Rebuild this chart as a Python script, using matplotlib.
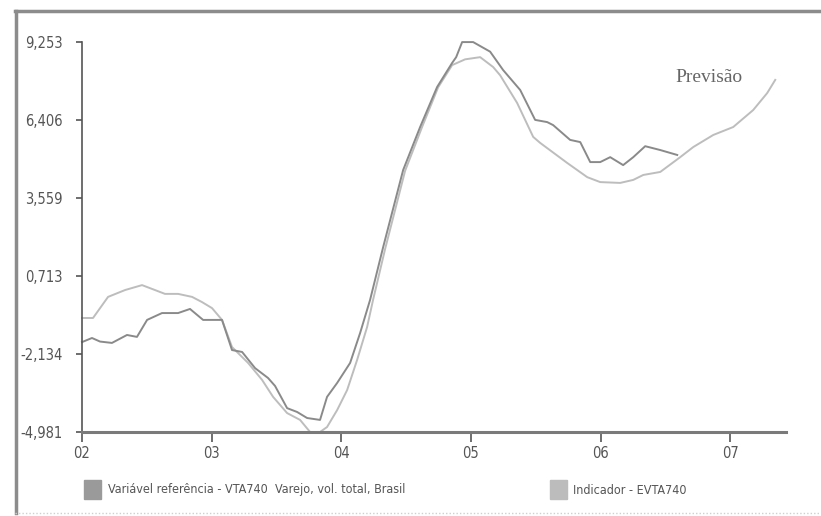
import numpy as np
import matplotlib
matplotlib.use("Agg")
import matplotlib.pyplot as plt
from matplotlib import font_manager
from matplotlib.patches import Rectangle
from matplotlib.lines import Line2D

# reference series: VTA740 (years, value)
ref_t = [0.000, 0.077, 0.139, 0.231, 0.347, 0.424, 0.502, 0.617, 0.741, 0.833,
         0.934, 1.080, 1.157, 1.235, 1.335, 1.435, 1.489, 1.582, 1.659, 1.736,
         1.836, 1.890, 1.968, 2.068, 2.145, 2.222, 2.323, 2.477, 2.608, 2.739,
         2.855, 2.886, 2.932, 3.017, 3.148, 3.248, 3.380, 3.495, 3.588, 3.634,
         3.765, 3.843, 3.920, 3.997, 4.074, 4.174, 4.252, 4.344, 4.460, 4.591]
ref_v = [-1.70, -1.55, -1.68, -1.73, -1.44, -1.51, -0.89, -0.64, -0.64, -0.49,
         -0.89, -0.89, -1.99, -2.06, -2.65, -3.01, -3.30, -4.11, -4.25, -4.47,
         -4.54, -3.70, -3.19, -2.46, -1.37, -0.16, 1.77, 4.58, 6.15, 7.61,
         8.49, 8.70, 9.25, 9.25, 8.90, 8.23, 7.50, 6.41, 6.33, 6.22,
         5.68, 5.60, 4.87, 4.87, 5.05, 4.76, 5.05, 5.45, 5.31, 5.13]

# indicator series: EVTA740 (incl. forecast)
ind_t = [0.000, 0.085, 0.201, 0.332, 0.463, 0.563, 0.640, 0.741, 0.849, 0.926,
         1.003, 1.080, 1.157, 1.281, 1.389, 1.474, 1.582, 1.682, 1.759, 1.836,
         1.890, 1.968, 2.045, 2.122, 2.199, 2.245, 2.338, 2.492, 2.623, 2.747,
         2.855, 2.955, 3.071, 3.171, 3.225, 3.356, 3.480, 3.534, 3.742, 3.897,
         3.997, 4.151, 4.252, 4.329, 4.460, 4.614, 4.715, 4.869, 5.023, 5.177,
         5.285, 5.347]
ind_v = [-0.82, -0.82, -0.05, 0.20, 0.38, 0.20, 0.06, 0.06, -0.05, -0.24,
         -0.46, -0.89, -1.88, -2.46, -3.08, -3.70, -4.29, -4.54, -4.98, -4.98,
         -4.80, -4.18, -3.45, -2.35, -1.15, -0.16, 1.70, 4.55, 6.15, 7.60,
         8.41, 8.62, 8.70, 8.34, 8.04, 7.03, 5.79, 5.57, 4.84, 4.32,
         4.14, 4.11, 4.22, 4.40, 4.51, 5.05, 5.42, 5.86, 6.15, 6.77,
         7.39, 7.87]

start_year = 2002
yticks = [-4.981, -2.134, 0.713, 3.559, 6.406, 9.253]
ytick_labels = ["-4,981", "-2,134", "0,713", "3,559", "6,406", "9,253"]
xticks = [2002, 2003, 2004, 2005, 2006, 2007]
xtick_labels = ["02", "03", "04", "05", "06", "07"]
ref_label = "Variável referência - VTA740  Varejo, vol. total, Brasil"
ind_label = "Indicador - EVTA740"

names = {f.name for f in font_manager.fontManager.ttflist}
if "Liberation Sans Narrow" in names:
    plt.rcParams["font.family"] = ["Liberation Sans Narrow", "DejaVu Sans"]
else:
    plt.rcParams["font.family"] = ["DejaVu Sans"]
    plt.rcParams["font.stretch"] = "condensed"

W, H = 821, 516
fig = plt.figure(figsize=(W / 100, H / 100), dpi=100)
ax = fig.add_axes([82 / W, 1 - 432 / H, (786 - 82) / W, 390 / H])

ax.plot(np.array(ind_t) + start_year, ind_v, color="#bdbdbd", lw=1.4, clip_on=False)
ax.plot(np.array(ref_t) + start_year, ref_v, color="#8a8a8a", lw=1.4, clip_on=False)

ax.set_xlim(2002, 2007.43)
ax.set_ylim(-4.981, 9.253)
ax.set_xticks(xticks)
ax.set_xticklabels(xtick_labels)
ax.set_yticks(yticks)
ax.set_yticklabels(ytick_labels)
ax.tick_params(axis="y", length=4, width=1.2, color="#555555", labelsize=10.5,
               labelcolor="#555555", pad=10)
ax.tick_params(axis="x", length=7, width=1.2, color="#555555", labelsize=10.5,
               labelcolor="#555555", pad=3)
for s in ["top", "right"]:
    ax.spines[s].set_visible(False)
ax.spines["left"].set_color("#555555")
ax.spines["left"].set_linewidth(1.2)
ax.spines["bottom"].set_color("#7a7a7a")
ax.spines["bottom"].set_linewidth(2.2)

fig.text(675 / W, 1 - 78 / H, "Previsão", family="Liberation Serif", fontsize=14,
         stretch="normal", color="#666666", va="center", ha="left")

# legend
fig.patches.append(Rectangle((84 / W, 1 - 499 / H), 17 / W, 19 / H,
                             transform=fig.transFigure, color="#9a9a9a"))
fig.text(108 / W, 1 - 490 / H, ref_label, fontsize=9, color="#555555", va="center")
fig.patches.append(Rectangle((550 / W, 1 - 499 / H), 17 / W, 19 / H,
                             transform=fig.transFigure, color="#bcbcbc"))
fig.text(573 / W, 1 - 490 / H, ind_label, fontsize=9, color="#555555", va="center")

# outer frame
fig.lines.append(Line2D([15 / W, 1], [1 - 11 / H, 1 - 11 / H], transform=fig.transFigure,
                        color="#8c8c8c", lw=2.5))
fig.lines.append(Line2D([16 / W, 16 / W], [1 - 11 / H, 1 - 513 / H], transform=fig.transFigure,
                        color="#8c8c8c", lw=2.5))
fig.lines.append(Line2D([15 / W, 1], [1 - 513 / H, 1 - 513 / H], transform=fig.transFigure,
                        color="#cfcfcf", lw=1, ls=(0, (1, 1.5))))

fig.savefig("out.png", dpi=100)
